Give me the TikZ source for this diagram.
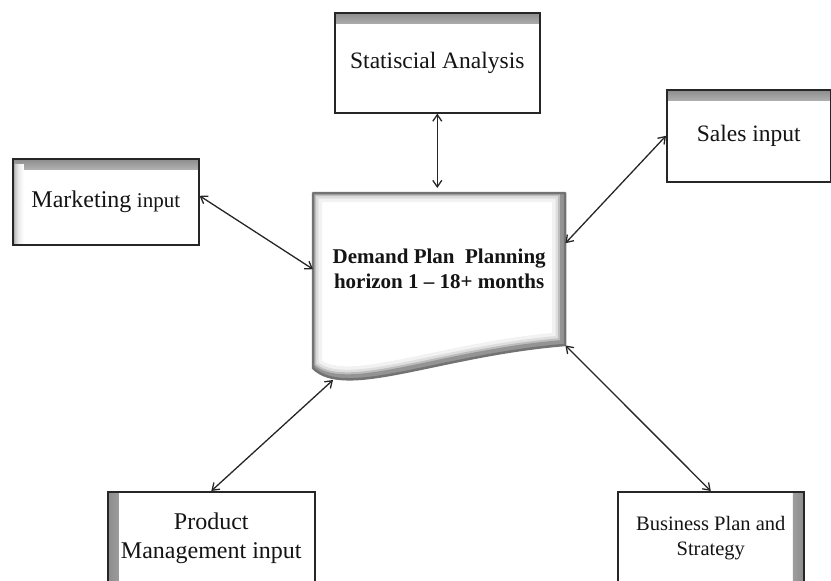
\documentclass[tikz,border=0pt]{standalone}
\usepackage{fontspec}
\setmainfont{Liberation Serif}
\usetikzlibrary{arrows.meta,calc}
% soft inner-edge fades: quick fall-off from the edge to white
\pgfdeclareverticalshading{fadefromtop}{100bp}{color(0bp)=(white); color(25bp)=(white); color(50bp)=(black!8); color(65bp)=(black!22); color(75bp)=(black!45); color(100bp)=(black!45)}
\pgfdeclarehorizontalshading{fadefromleft}{100bp}{color(0bp)=(black!45); color(25bp)=(black!45); color(35bp)=(black!22); color(50bp)=(black!8); color(75bp)=(white); color(100bp)=(white)}
\pgfdeclarehorizontalshading{fadefromright}{100bp}{color(0bp)=(white); color(25bp)=(white); color(50bp)=(black!8); color(65bp)=(black!22); color(75bp)=(black!45); color(100bp)=(black!45)}
\begin{document}
\begin{tikzpicture}[x=1pt,y=-1pt,
  box/.style={draw=black!85, line width=1.6pt, fill=white, inner sep=0pt,
    anchor=north west, align=center, text=black!92},
  shadetop/.style={path picture={
    \shade[shading=fadefromtop]
      (path picture bounding box.north west) rectangle
      ([yshift=-11pt]path picture bounding box.north east);}},
  shadeleft/.style={path picture={
    \shade[shading=fadefromleft]
      (path picture bounding box.north west) rectangle
      ([xshift=11pt]path picture bounding box.south west);}},
  shadetopleft/.style={path picture={
    \shade[shading=fadefromtop]
      (path picture bounding box.north west) rectangle
      ([yshift=-11pt]path picture bounding box.north east);
    \shade[shading=fadefromleft]
      ([yshift=-6pt]path picture bounding box.north west) rectangle
      ([xshift=11pt]path picture bounding box.south west);}},
  shaderight/.style={path picture={
    \shade[shading=fadefromright]
      ([xshift=-11pt]path picture bounding box.north east) rectangle
      (path picture bounding box.south east);}},
  link/.style={{Straight Barb[length=6.5pt,width=9pt]}-{Straight Barb[length=6.5pt,width=9pt]},
    line width=1.3pt, draw=black!85},
]
\useasboundingbox (0,0) rectangle (831,581);
\clip (0,0) rectangle (831,581);

% outer boxes
\node[box, shadetop, minimum width=205pt, minimum height=100pt,
  font=\fontsize{23.5}{28}\selectfont] (sa) at (334,12) {Statiscial Analysis};
\node[box, shadetop, minimum width=164pt, minimum height=92pt,
  font=\fontsize{23.5}{28}\selectfont] (sl) at (666,89) {Sales input};
\node[box, shadetopleft, minimum width=186pt, minimum height=86pt] (mk) at (12,158)
  {{\fontsize{24}{28}\selectfont Marketing}\hspace{3pt} {\fontsize{21}{26}\selectfont input}};
\node[box, shadeleft, minimum width=207pt, minimum height=93pt,
  font=\fontsize{24}{29}\selectfont] (pm) at (107,491) {Product\\Management input};
\node[box, shaderight, minimum width=186pt, minimum height=93pt,
  font=\fontsize{20.5}{25}\selectfont] (bp) at (617,491) {Business Plan and\\Strategy};

% central document shape with bevelled edge
\def\docpath{(313,193) -- (565,193) -- (565,345) .. controls (440,355) and (345,400) .. (313,368) -- cycle}
\fill[white] \docpath;
\begin{scope}
  \clip \docpath;
  \begin{scope}[shift={(-2,-2)}, line join=round]
    \draw[line width=22pt, black!5] \docpath;
    \draw[line width=15pt, black!13] \docpath;
    \draw[line width=10pt, black!26] \docpath;
    \draw[line width=6pt, black!42] \docpath;
  \end{scope}
\end{scope}
\draw[black!55, line width=2.5pt, line join=round] \docpath;
\node[minimum width=252pt, minimum height=152pt, inner sep=0pt, anchor=north west,
  align=center, text=black!92, font=\bfseries\fontsize{21}{25}\selectfont] (doc) at (313,193)
  {Demand Plan\ \ Planning\\horizon 1 – 18+ months};
\coordinate (wave) at (333,380);

% connectors
\draw[link, shorten >=5pt] (sa.south) -- (sa.south |- doc.north);
\draw[link] ([yshift=6pt]mk.east) -- (doc.west);
\draw[link] (sl.west) -- ([yshift=26pt]doc.east);
\draw[link] (pm.north) -- (wave);
\draw[link] (doc.south east) -- (bp.north);
\end{tikzpicture}
\end{document}
